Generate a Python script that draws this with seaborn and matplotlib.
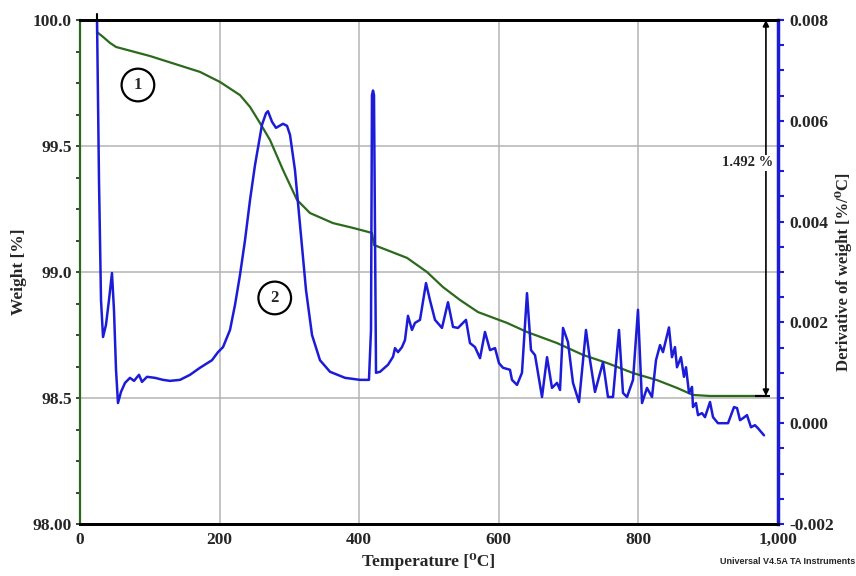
import numpy as np
import pandas as pd
import matplotlib
matplotlib.use('Agg')
import matplotlib.pyplot as plt
from matplotlib.ticker import MultipleLocator
import seaborn as sns

# TGA weight curve (curve 1)
weight_temp = [24.4, 33.0, 43.0, 51.6, 100.3, 171.9, 200.6, 229.2, 243.6, 257.9,
               272.2, 290.8, 310.9, 329.5, 362.5, 391.1, 418.3, 421.2, 439.8, 468.5,
               497.1, 520.1, 544.4, 570.2, 611.7, 640.4, 683.4, 720.6, 755.0, 792.3,
               826.6, 855.3, 878.2, 902.6, 949.9, 984.2]
weight_pct = [99.952, 99.933, 99.909, 99.893, 99.857, 99.794, 99.754, 99.702, 99.655, 99.591,
              99.524, 99.405, 99.286, 99.234, 99.194, 99.175, 99.155, 99.107, 99.087, 99.056,
              99.000, 98.940, 98.889, 98.841, 98.798, 98.762, 98.718, 98.671, 98.639, 98.599,
              98.571, 98.540, 98.512, 98.508, 98.508, 98.508]

# derivative of weight (curve 2)
deriv_temp = [24.4, 27.2, 30.1, 33.0, 37.2, 41.5, 45.8, 48.7, 51.6, 54.4,
              58.7, 64.5, 71.6, 77.4, 84.5, 88.8, 96.0, 107.4, 118.9, 128.9,
              143.3, 157.6, 171.9, 189.1, 197.7, 204.9, 214.9, 222.1, 229.2, 236.4,
              243.6, 250.7, 260.7, 266.5, 269.3, 275.1, 280.8, 290.8, 296.6, 300.9,
              308.0, 315.2, 323.8, 332.4, 343.8, 358.2, 379.7, 401.1, 414.0, 416.9,
              418.3, 419.8, 421.2, 424.1, 429.8, 441.3, 448.5, 451.3, 455.6, 461.3,
              465.6, 469.9, 475.6, 479.9, 487.1, 495.7, 501.4, 508.6, 518.6, 527.2,
              534.4, 541.5, 553.0, 558.7, 565.9, 573.1, 580.2, 587.4, 594.6, 600.3,
              606.0, 616.0, 618.9, 626.1, 633.2, 640.4, 646.1, 651.9, 661.9, 669.1,
              676.2, 683.4, 687.7, 692.0, 699.1, 706.3, 714.9, 724.9, 730.7, 737.8,
              749.3, 756.4, 763.6, 772.2, 777.9, 783.7, 792.3, 799.4, 805.2, 812.3,
              819.5, 825.2, 831.0, 835.2, 843.8, 848.1, 852.4, 855.3, 861.0, 865.3,
              868.2, 872.5, 876.8, 878.2, 882.5, 885.4, 891.1, 895.4, 902.6, 906.9,
              914.0, 921.2, 928.4, 937.0, 941.3, 945.6, 949.9, 955.6, 961.3, 967.0,
              971.3, 979.9]
deriv_val = [0.00800, 0.00483, 0.00244, 0.00171, 0.00195, 0.00244, 0.00298, 0.00224, 0.00106, 0.00040,
             0.00062, 0.00080, 0.00090, 0.00084, 0.00096, 0.00082, 0.00092, 0.00090, 0.00086, 0.00084,
             0.00086, 0.00096, 0.00110, 0.00125, 0.00141, 0.00151, 0.00185, 0.00235, 0.00294, 0.00363,
             0.00443, 0.00512, 0.00592, 0.00615, 0.00619, 0.00598, 0.00586, 0.00594, 0.00590, 0.00572,
             0.00502, 0.00393, 0.00264, 0.00175, 0.00125, 0.00102, 0.00090, 0.00086, 0.00086, 0.00185,
             0.00651, 0.00660, 0.00651, 0.00100, 0.00102, 0.00116, 0.00132, 0.00149, 0.00141, 0.00151,
             0.00165, 0.00213, 0.00185, 0.00199, 0.00205, 0.00278, 0.00244, 0.00205, 0.00189, 0.00240,
             0.00191, 0.00189, 0.00205, 0.00159, 0.00151, 0.00129, 0.00181, 0.00145, 0.00149, 0.00119,
             0.00110, 0.00106, 0.00086, 0.00076, 0.00100, 0.00258, 0.00145, 0.00135, 0.00052, 0.00131,
             0.00070, 0.00080, 0.00066, 0.00189, 0.00161, 0.00080, 0.00042, 0.00185, 0.00125, 0.00062,
             0.00121, 0.00052, 0.00052, 0.00185, 0.00060, 0.00052, 0.00086, 0.00225, 0.00040, 0.00070,
             0.00052, 0.00125, 0.00155, 0.00141, 0.00190, 0.00131, 0.00151, 0.00111, 0.00131, 0.00092,
             0.00111, 0.00060, 0.00072, 0.00032, 0.00040, 0.00016, 0.00020, 0.00012, 0.00042, 0.00012,
             0.00000, 0.00000, 0.00000, 0.00032, 0.00030, 0.00006, 0.00010, 0.00016, -0.00008, -0.00004,
             -0.00010, -0.00024]

x_ticks = [0, 200, 400, 600, 800, 1000]
x_tick_labels = ['0', '200', '400', '600', '800', '1,000']
w_ticks = [98.0, 98.5, 99.0, 99.5, 100.0]
w_tick_labels = ['98.00', '98.5', '99.0', '99.5', '100.0']
d_ticks = [-0.002, 0.0, 0.002, 0.004, 0.006, 0.008]
d_tick_labels = ['-0.002', '0.000', '0.002', '0.004', '0.006', '0.008']

GREEN = '#2b6a1c'
BLUE = '#1c1cd8'
FS = 12.5

sns.set_style('white')
plt.rcParams['font.family'] = ['Liberation Serif', 'DejaVu Serif']
plt.rcParams['font.weight'] = 'bold'
plt.rcParams['axes.labelweight'] = 'bold'

fig = plt.figure(figsize=(8.56, 5.76), dpi=100)
ax = fig.add_axes([80 / 856, 1 - 524 / 576, 698 / 856, 504 / 576])
ax2 = ax.twinx()

weight_df = pd.DataFrame({'temp': weight_temp, 'weight': weight_pct})
deriv_df = pd.DataFrame({'temp': deriv_temp, 'deriv': deriv_val})

sns.lineplot(data=weight_df, x='temp', y='weight', ax=ax, color=GREEN,
             lw=1.6, estimator=None, sort=False)
sns.lineplot(data=deriv_df, x='temp', y='deriv', ax=ax2, color=BLUE,
             lw=1.8, estimator=None, sort=False)

ax.set_xlim(0, 1000)
ax.set_ylim(98, 100)
ax2.set_ylim(-0.002, 0.008)

ax.set_xticks(x_ticks, x_tick_labels, fontsize=FS)
ax.set_yticks(w_ticks, w_tick_labels, fontsize=FS)
ax2.set_yticks(d_ticks, d_tick_labels, fontsize=FS)
ax.xaxis.set_minor_locator(MultipleLocator(50))
ax.yaxis.set_minor_locator(MultipleLocator(0.125))
ax2.yaxis.set_minor_locator(MultipleLocator(0.0005))

ax.grid(True, which='major', color='#b4b4b4', lw=1.1)
ax.set_axisbelow(True)

ax.tick_params(axis='x', which='both', direction='inout', length=5, width=1.5,
               color='black', pad=3)
ax.tick_params(axis='y', which='both', direction='out', length=3, width=1.3,
               color='#333333', pad=3, left=True)
ax2.tick_params(axis='y', which='both', direction='out', length=4, width=1.5,
                color=BLUE, pad=4, right=True)

# spines: green weight axis, blue derivative axis, black frame
for a in (ax, ax2):
    a.spines['top'].set_color('black')
    a.spines['top'].set_linewidth(2)
    a.spines['bottom'].set_color('black')
    a.spines['bottom'].set_linewidth(2)
ax.spines['left'].set_color(GREEN)
ax.spines['left'].set_linewidth(1.6)
ax2.spines['left'].set_visible(False)
ax.spines['right'].set_visible(False)
ax2.spines['right'].set_color(BLUE)
ax2.spines['right'].set_linewidth(2.5)

ax.set_xlabel('Temperature [\u2070C]', fontsize=FS, labelpad=4)
ax.set_ylabel('Weight [%]', fontsize=FS, labelpad=4)
ax2.set_ylabel('Derivative of weight [%/\u2070C]', fontsize=12, labelpad=1)

# start marker
ax.axvline(weight_temp[0], ymin=0.975, ymax=1.012, color='black', lw=1.5, clip_on=False)

# total weight-loss arrow
loss_t = weight_temp[-1] - 1.5
ax.annotate('', xy=(loss_t, weight_pct[-1]), xytext=(loss_t, 100.0),
            arrowprops=dict(arrowstyle='<|-|>', color='black', lw=1.2,
                            mutation_scale=9, shrinkA=0, shrinkB=0))
ax.hlines(weight_pct[-1], loss_t - 15, loss_t + 6, color='black', lw=1.5)
ax.text(957, 99.433, f'{100 - weight_pct[-1]:.3f} %', fontsize=10.5,
        ha='center', va='center', zorder=5,
        bbox=dict(fc='white', ec='none', pad=1))

# curve numbers
for label, tx, wy in [('1', 83, 99.742), ('2', 279, 98.897)]:
    ax.text(tx, wy, label, fontsize=12, ha='center', va='center', zorder=5,
            bbox=dict(boxstyle='circle,pad=0.5', fc='none', ec='black', lw=1.6))

fig.text(855 / 856, 1 - 562 / 576, 'Universal V4.5A TA Instruments',
         ha='right', va='center', fontsize=6.5, fontweight='bold',
         family=['Liberation Sans', 'DejaVu Sans'])

fig.savefig('out.png', dpi=100)
